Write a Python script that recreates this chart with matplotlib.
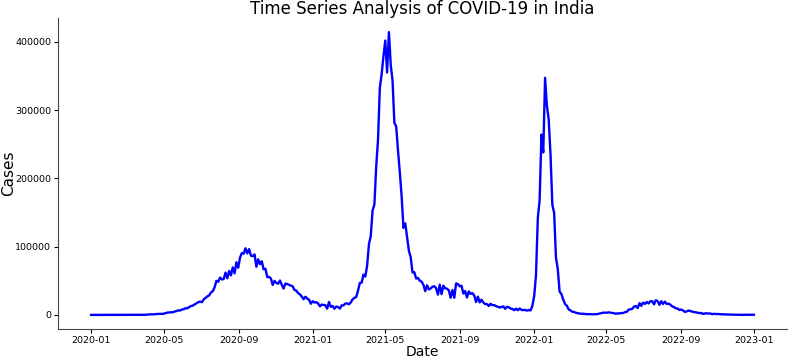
import pandas as pd
import matplotlib
matplotlib.use("Agg")
import matplotlib.pyplot as plt
import matplotlib.dates as mdates

start_date = "2020-01-01"
end_date = "2022-12-31"
step = "3D"

cases = [
    # 2020
    0, 0, 0, 0, 0, 0, 0, 0, 0, 0,
    0, 0, 0, 0, 0, 0, 0, 0, 0, 0,
    0, 0, 3, 20, 10, 20, 40, 80, 90, 150,
    230, 480, 600, 910, 800, 1000, 1200, 1300, 1600, 1400,
    1800, 2600, 3400, 3600, 3700, 3900, 4900, 5600, 6600, 6400,
    7900, 8200, 9900, 9600, 11500, 12900, 13600, 15400, 16900, 18600,
    19500, 18600, 22700, 24900, 27100, 28600, 32700, 34900, 40400, 49900,
    48500, 54700, 52000, 52500, 62000, 53600, 64500, 57900, 69600, 60900,
    77000, 69000, 83900, 90600, 89700, 97600, 90100, 96400, 86900, 86000,
    88600, 70600, 81500, 74400, 78500, 66700, 67700, 55300, 55800, 53400,
    43900, 49900, 46900, 45600, 50400, 44000, 38600, 45900, 45200, 44100,
    43000, 41800, 36600, 35500, 32000, 30000, 27000, 22900, 26600, 23900,
    # 2021
    22300, 16400, 20000, 18200, 18600, 16900, 12600, 15100, 14500, 14300,
    9100, 18900, 11800, 13000, 9100, 12200, 11600, 9300, 14000, 13900,
    16700, 16800, 15500, 18300, 22800, 24900, 26300, 35900, 46900, 47300,
    59100, 56200, 72300, 103600, 115700, 152900, 161700, 217300, 256800, 332700,
    352900, 379300, 401900, 355000, 414200, 366200, 343100, 281400, 276100, 240800,
    208900, 173800, 127500, 134100, 114500, 94000, 84300, 62200, 62500, 53300,
    54100, 50000, 48800, 44100, 34700, 43400, 37200, 38900, 41200, 42000,
    39100, 29700, 44200, 30500, 42900, 39000, 38300, 36000, 25200, 36400,
    25100, 46200, 45000, 41900, 42700, 31200, 34900, 25400, 34400, 30800,
    31900, 28300, 18800, 26700, 18300, 22400, 18100, 15800, 15900, 13000,
    16300, 14300, 14300, 12800, 11900, 10900, 11500, 12500, 8900, 11900,
    11100, 9300, 8800, 6900, 9200, 6800, 9400, 7300, 7000, 7400,
    # 2022
    6300, 7200, 6500, 13200, 27600, 58100, 141900, 168100, 264200, 238000,
    347300, 306100, 286400, 234300, 161400, 149400, 83900, 67100, 34100, 30600,
    22300, 16000, 13400, 8000, 6600, 4600, 4200, 3100, 2500, 2100,
    1600, 1700, 1300, 1100, 1100, 1100, 800, 1000, 1100, 1200,
    2100, 2500, 3300, 3200, 3200, 3800, 3200, 2900, 2500, 1600,
    2300, 2100, 2700, 2700, 4000, 4500, 7600, 8300, 8800, 12200,
    12900, 9900, 17300, 13300, 18000, 16100, 18900, 16700, 20000, 20000,
    15500, 21600, 20200, 14800, 20000, 16000, 19400, 16000, 16600, 14900,
    12600, 11500, 9500, 9400, 7200, 7900, 6400, 4400, 5100, 6400,
    5700, 4800, 4100, 3800, 3300, 2600, 2800, 1500, 2100, 2400,
    1900, 2100, 1100, 1600, 1300, 1300, 1100, 800, 800, 700,
    500, 500, 400, 400, 300, 300, 200, 200, 100, 200,
    160, 200, 100, 190, 170, 240,
]

dates = pd.date_range(start_date, end_date, freq=step)
df = pd.DataFrame({"Date": dates, "Cases": cases})

fig = plt.figure(figsize=(7.89, 3.6), dpi=100)
ax = fig.add_axes([0.0735, 0.086, 0.924, 0.864])

ax.plot(df["Date"], df["Cases"], color="blue", linewidth=1.7)

ax.set_title("Time Series Analysis of COVID-19 in India", fontsize=12, pad=1.5)
ax.set_xlabel("Date", fontsize=10)
ax.set_ylabel("Cases", fontsize=11)
ax.xaxis.set_label_coords(0.5, -0.05)
ax.yaxis.set_label_coords(-0.0576, 0.5)

ax.xaxis.set_major_locator(mdates.MonthLocator(bymonth=[1, 5, 9]))
ax.xaxis.set_major_formatter(mdates.DateFormatter("%Y-%m"))
ax.tick_params(labelsize=6.8, length=3, width=0.8, pad=2)

ax.spines["top"].set_visible(False)
ax.spines["right"].set_visible(False)
for s in ["left", "bottom"]:
    ax.spines[s].set_color("#444444")

fig.savefig("out.png", dpi=100)
